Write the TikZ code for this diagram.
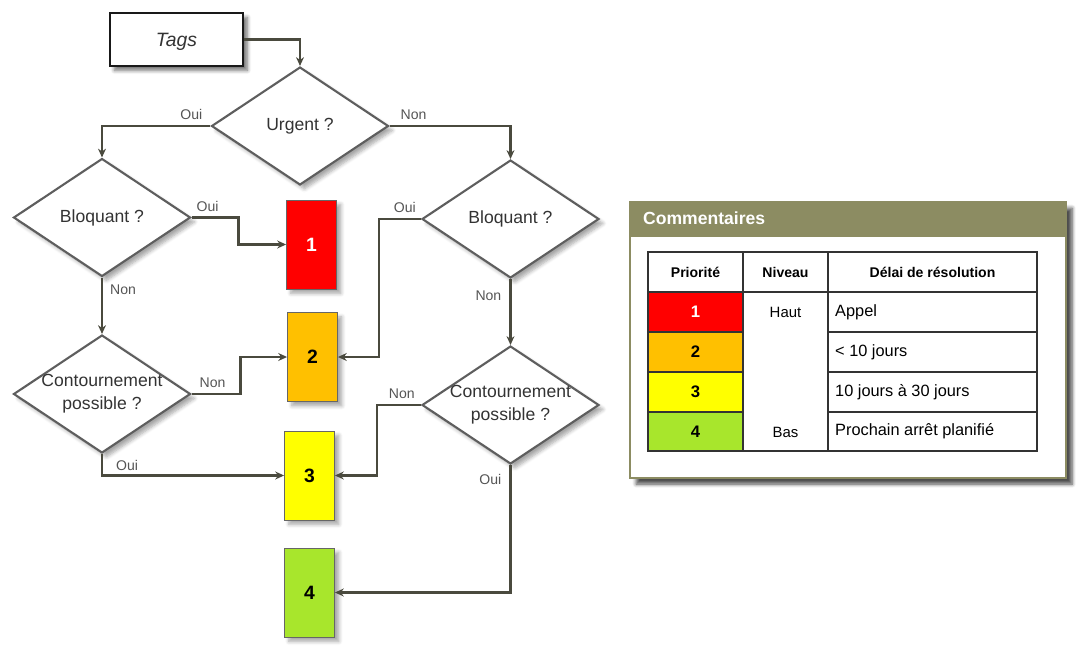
\documentclass[tikz,border=0pt]{standalone}
\usepackage{fontspec}
\setmainfont{Liberation Sans}
\usetikzlibrary{shapes.geometric,arrows.meta,shadows.blur}
\definecolor{conn}{HTML}{4A4A3E}
\definecolor{diab}{HTML}{5E5E5E}
\definecolor{txt}{HTML}{333333}
\definecolor{lbl}{HTML}{555555}
\definecolor{pred}{HTML}{FF0000}
\definecolor{porange}{HTML}{FFC000}
\definecolor{pyellow}{HTML}{FFFF00}
\definecolor{pgreen}{HTML}{A8E62C}
\definecolor{olive}{HTML}{8C8C62}
\definecolor{grid}{HTML}{333333}
\tikzset{
  shd/.style={blur shadow={shadow xshift=2.5pt,shadow yshift=-2.5pt,shadow blur steps=6,shadow opacity=35}},
  dia/.style={diamond,draw=diab,line width=1.2pt,fill=white,inner sep=0pt,minimum width=3.54cm,minimum height=2.36cm,shd},
  diatext/.style={font=\fontsize{10}{13}\selectfont,text=txt,align=center},
  prio/.style={rectangle,draw=gray!80!black,line width=0.5pt,minimum width=1.0cm,minimum height=1.78cm,font=\fontsize{11}{12}\selectfont\bfseries,shd},
  conn/.style={draw=conn,line width=1.4pt,-{Stealth[length=5pt,width=4.5pt]}},
  lab/.style={font=\fontsize{8}{9}\selectfont,text=lbl},
  cell/.style={font=\fontsize{9.3}{10}\selectfont,text=black},
  hcell/.style={font=\fontsize{8}{9}\selectfont\bfseries,text=black},
}
\begin{document}
\begin{tikzpicture}[x=0.02cm,y=-0.02cm]
\useasboundingbox (0,0) rectangle (1080,649);
% Tags
\node[draw=black!90,line width=1.6pt,fill=white,minimum width=2.66cm,minimum height=1.06cm,inner sep=0pt,
  blur shadow={shadow xshift=2.5pt,shadow yshift=-2.5pt,shadow blur steps=6,shadow opacity=55}] (tags) at (176.5,39.5) {};
\node[font=\fontsize{11}{12}\selectfont\itshape,text=txt] (tagst) at ([yshift=-0.05cm]tags.center) {Tags};
% diamonds
\node[dia] (u) at (300,126) {};
\node[diatext] (ut) at (u) {Urgent ?};
\node[dia] (b1) at (102,217.5) {};
\node[diatext] (b1t) at (b1) {Bloquant ?};
\node[dia] (c1) at (102,394) {};
\node[diatext] (c1t) at (c1) {Contournement\\possible ?};
\node[dia] (b2) at (510.5,219) {};
\node[diatext] (b2t) at (b2) {Bloquant ?};
\node[dia] (c2) at (510.5,405) {};
\node[diatext] (c2t) at (c2) {Contournement\\possible ?};
% priority boxes
\node[prio,fill=pred,text=white] (r1) at (311.5,244.5) {1};
\node[prio,fill=porange] (r2) at (312.5,357) {2};
\node[prio,fill=pyellow] (r3) at (309.5,475.5) {3};
\node[prio,fill=pgreen] (r4) at (309.5,592.5) {4};
% connectors
\draw[conn] (tags.east) -| (u.north);
\draw[conn] (u.west) -| (b1.north);
\draw[conn] (u.east) -| (b2.north);
\draw[conn] (b1.east) -- ++(47,0) |- (r1.west);
\draw[conn] (b1.south) -- (c1.north);
\draw[conn] (c1.east) -- ++(49,0) |- (r2.west);
\draw[conn] (c1.south) |- (r3.west);
\draw[conn] (b2.west) -- ++(-42,0) |- (r2.east);
\draw[conn] (b2.south) -- (c2.north);
\draw[conn] (c2.west) -- ++(-44,0) |- (r3.east);
\draw[conn] (c2.south) |- (r4.east);
% labels
\node[lab,anchor=south east] (l1) at ([xshift=-0.04cm]u.west) {Oui};
\node[lab,anchor=south west] (l2) at ([xshift=0.1cm]u.east) {Non};
\node[lab,anchor=south west] (l3) at ([xshift=-0.02cm]b1.east) {Oui};
\node[lab,anchor=north west] (l4) at ([xshift=0.04cm,yshift=-0.02cm]b1.south) {Non};
\node[lab,anchor=south west] (l5) at ([xshift=0.04cm]c1.east) {Non};
\node[lab,anchor=north west] (l6) at ([xshift=0.16cm,yshift=0cm]c1.south) {Oui};
\node[lab,anchor=south east] (l7) at ([xshift=0.02cm]b2.west) {Oui};
\node[lab,anchor=north east] (l8) at ([xshift=-0.06cm,yshift=-0.12cm]b2.south) {Non};
\node[lab,anchor=south east] (l9) at ([xshift=0cm]c2.west) {Non};
\node[lab,anchor=north east] (l10) at ([xshift=-0.06cm,yshift=-0.06cm]c2.south) {Oui};
% Commentaires panel
\node[draw=olive,line width=1.2pt,fill=white,minimum width=8.72cm,minimum height=5.52cm,inner sep=0pt,
  blur shadow={shadow xshift=3.5pt,shadow yshift=-3.5pt,shadow blur steps=6,shadow opacity=70}] (panel) at (848,340) {};
\fill[olive] (panel.north west) rectangle ([yshift=-0.72cm]panel.north east);
\node[anchor=west,font=\fontsize{10}{11}\selectfont\bfseries,text=white] (ptitle) at ([xshift=0.16cm,yshift=-0.34cm]panel.north west) {Commentaires};
% table
\fill[pred] (648,292) rectangle (743,332);
\fill[porange] (648,332) rectangle (743,372);
\fill[pyellow] (648,372) rectangle (743,412);
\fill[pgreen] (648,412) rectangle (743,451);
\draw[grid,line width=0.8pt] (648,252) rectangle (1037,451);
\draw[grid,line width=0.8pt] (743,252) -- (743,451);
\draw[grid,line width=0.8pt] (828,252) -- (828,451);
\draw[grid,line width=0.8pt] (648,292) -- (1037,292);
\draw[grid,line width=0.8pt] (648,332) -- (743,332) (828,332) -- (1037,332);
\draw[grid,line width=0.8pt] (648,372) -- (743,372) (828,372) -- (1037,372);
\draw[grid,line width=0.8pt] (648,412) -- (743,412) (828,412) -- (1037,412);
\node[hcell] (h1) at (695.5,272) {Priorité};
\node[hcell] (h2) at (785.5,272) {Niveau};
\node[hcell] (h3) at (932.5,272) {Délai de résolution};
\node[hcell,text=white,font=\fontsize{9.5}{10}\selectfont\bfseries] (p1) at (695.5,312) {1};
\node[hcell,font=\fontsize{9.5}{10}\selectfont\bfseries] (p2) at (695.5,352) {2};
\node[hcell,font=\fontsize{9.5}{10}\selectfont\bfseries] (p3) at (695.5,392) {3};
\node[hcell,font=\fontsize{9.5}{10}\selectfont\bfseries] (p4) at (695.5,431.5) {4};
\node[cell,font=\fontsize{8.5}{10}\selectfont] (n1) at (785.5,312) {Haut};
\node[cell,font=\fontsize{8.5}{10}\selectfont] (n4) at (785.5,432) {Bas};
\node[cell,anchor=west] (d1) at (829,312) {Appel};
\node[cell,anchor=west] (d2) at (829,352) {< 10 jours};
\node[cell,anchor=west] (d3) at (829,392) {10 jours à 30 jours};
\node[cell,anchor=west] (d4) at (829,431.5) {Prochain arrêt planifié};
\end{tikzpicture}
\end{document}
